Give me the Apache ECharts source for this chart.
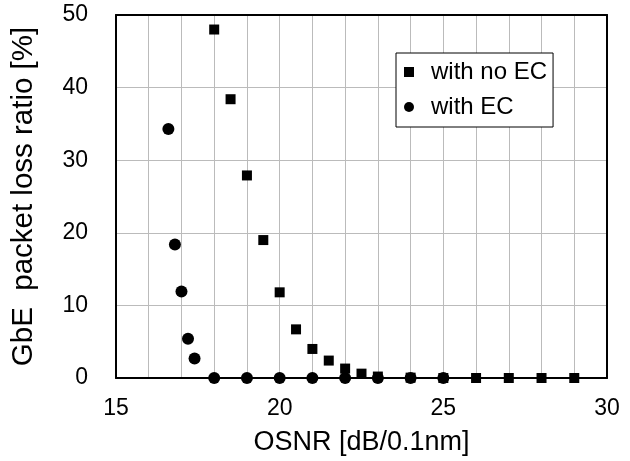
<!DOCTYPE html>
<html>
<head>
<meta charset="utf-8">
<script src="https://cdn.jsdelivr.net/npm/echarts@6/dist/echarts.min.js"></script>
<style>html,body{margin:0;padding:0;background:#fff;}#chart{width:630px;height:461px;}</style>
</head>
<body>
<div id="chart"></div>
<script>
const noEcX = [18, 18.5, 19, 19.5, 20, 20.5, 21, 21.5, 22, 22.5, 23, 24, 25, 26, 27, 28, 29];
const noEcY = [48, 38.4, 27.9, 19, 11.8, 6.7, 4.0, 2.4, 1.3, 0.6, 0.2, 0.05, 0, 0, 0, 0, 0];
const ecX = [16.6, 16.8, 17.0, 17.2, 17.4, 18, 19, 20, 21, 22, 23, 24, 25];
const ecY = [34.3, 18.4, 11.9, 5.4, 2.7, 0, 0, 0, 0, 0, 0, 0, 0];
const seriesNames = ['with no EC', 'with EC'];
const xName = 'OSNR [dB/0.1nm]';
const yName = 'GbE  packet loss ratio [%]';

const font = 'Liberation Sans';
const frameAxis = { show: true, onZero: false, lineStyle: { color: '#000', width: 2 } };
const chart = echarts.init(document.getElementById('chart'));
chart.setOption({
  animation: false,
  backgroundColor: '#fff',
  textStyle: { fontFamily: font, color: '#000' },
  grid: { left: 116, right: 23, top: 15, bottom: 83 },
  legend: {
    orient: 'vertical', left: 396, top: 53,
    backgroundColor: '#fff', borderColor: '#000', borderWidth: 1,
    padding: [7, 6, 8, 8], itemGap: 11, itemWidth: 10, itemHeight: 10,
    textStyle: { fontFamily: font, fontSize: 24, color: '#000', lineHeight: 24, padding: [0, 0, 0, 12] },
    data: [{ name: seriesNames[0], icon: 'rect' }, { name: seriesNames[1], icon: 'circle' }]
  },
  xAxis: [{
    type: 'value', min: 15, max: 30, interval: 5,
    name: xName, nameLocation: 'middle', nameGap: 51,
    nameTextStyle: { fontFamily: font, fontSize: 27, color: '#000' },
    axisLine: frameAxis,
    axisTick: { show: false },
    axisLabel: { fontFamily: font, fontSize: 23, color: '#000', margin: 19 },
    splitLine: { show: true, lineStyle: { color: '#bbb', width: 1 } },
    minorTick: { show: false, splitNumber: 5 },
    minorSplitLine: { show: true, lineStyle: { color: '#bbb', width: 1 } },
    z: 1
  }, {
    type: 'value', position: 'top', min: 15, max: 30, interval: 5,
    axisLine: frameAxis, axisTick: { show: false }, axisLabel: { show: false },
    splitLine: { show: false }, z: 3
  }],
  yAxis: [{
    type: 'value', min: 0, max: 50, interval: 10,
    name: yName, nameLocation: 'middle', nameGap: 77, nameRotate: 90,
    nameTextStyle: { fontFamily: font, fontSize: 29.5, color: '#000' },
    axisLine: frameAxis,
    axisTick: { show: false },
    axisLabel: { fontFamily: font, fontSize: 23, color: '#000', margin: 28 },
    splitLine: { show: true, lineStyle: { color: '#bbb', width: 1 } },
    z: 1
  }, {
    type: 'value', position: 'right', min: 0, max: 50, interval: 10,
    axisLine: frameAxis, axisTick: { show: false }, axisLabel: { show: false },
    splitLine: { show: false }, z: 3
  }],
  series: [
    { name: seriesNames[0], type: 'scatter', symbol: 'rect', symbolSize: 10,
      itemStyle: { color: '#000', opacity: 1 }, clip: false, z: 5,
      data: noEcX.map((x, i) => [x, noEcY[i]]) },
    { name: seriesNames[1], type: 'scatter', symbol: 'circle', symbolSize: 12,
      itemStyle: { color: '#000', opacity: 1 }, clip: false, z: 5,
      data: ecX.map((x, i) => [x, ecY[i]]) }
  ]
});
</script>
</body>
</html>
